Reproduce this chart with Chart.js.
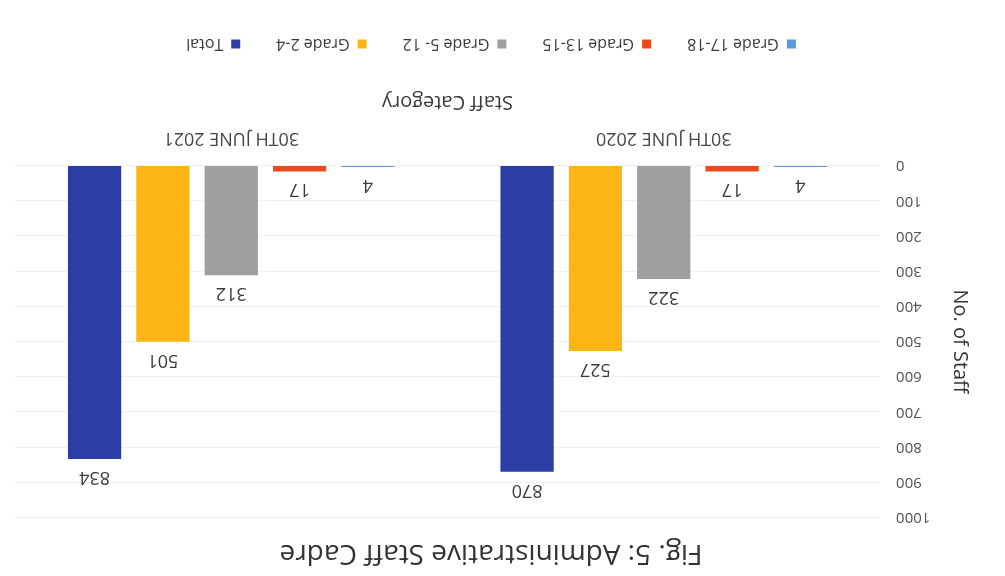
<!DOCTYPE html>
<html>
<head>
<meta charset="utf-8">
<title>Fig. 5: Administrative Staff Cadre</title>
<script src="https://cdn.jsdelivr.net/npm/chart.js@4.4.1/dist/chart.umd.min.js"></script>
<style>
  html, body { margin: 0; padding: 0; background: #ffffff; }
  #wrap { width: 1005px; height: 576px; transform: rotate(180deg); transform-origin: 50% 50%; }
  canvas { display: block; }
</style>
</head>
<body>
<div id="wrap"><canvas id="chart" width="1005" height="576"></canvas></div>
<script>
// Staff counts by grade at each reporting date
const categories = ['30TH JUNE 2020', '30TH JUNE 2021'];
const seriesNames = ['Grade 17-18', 'Grade 13-15', 'Grade 5- 12', 'Grade 2-4', 'Total'];
const grade17to18 = [4, 4];
const grade13to15 = [17, 17];
const grade5to12 = [322, 312];
const grade2to4 = [527, 501];
const totalStaff = [870, 834];
const yTicks = [0, 100, 200, 300, 400, 500, 600, 700, 800, 900, 1000];

const seriesColors = ['#5b9be0', '#ec4a1c', '#a19e9f', '#fbb616', '#2c3ea6'];
const seriesValues = [grade17to18, grade13to15, grade5to12, grade2to4, totalStaff];

const FONT = '"Open Sans", "Noto Sans", sans-serif';

// Writes each bar's value above it
const valueLabels = {
  id: 'valueLabels',
  afterDatasetsDraw(chart) {
    const ctx = chart.ctx;
    ctx.save();
    ctx.font = '18px ' + FONT;
    ctx.fillStyle = '#3d3a3a';
    ctx.textAlign = 'center';
    ctx.textBaseline = 'bottom';
    chart.data.datasets.forEach((ds, i) => {
      const meta = chart.getDatasetMeta(i);
      meta.data.forEach((bar, j) => {
        ctx.fillText(String(ds.data[j]), bar.x, bar.y - 9);
      });
    });
    ctx.restore();
  }
};

new Chart(document.getElementById('chart'), {
  type: 'bar',
  data: {
    labels: categories,
    datasets: seriesNames.map((name, i) => ({
      label: name,
      data: seriesValues[i],
      backgroundColor: seriesColors[i],
      borderWidth: 0,
      categoryPercentage: 0.79,
      barPercentage: 0.78
    }))
  },
  options: {
    responsive: false,
    animation: false,
    layout: { padding: { top: 6, right: 15, bottom: 26, left: 38 } },
    plugins: {
      title: {
        display: true,
        text: 'Fig. 5: Administrative Staff Cadre',
        color: '#333333',
        font: { family: FONT, size: 28, weight: 'normal' },
        padding: { top: 0, bottom: 19 }
      },
      legend: {
        position: 'bottom',
        labels: {
          color: '#3d3a3a',
          font: { family: FONT, size: 16 },
          boxWidth: 9,
          boxHeight: 9,
          padding: 36
        }
      },
      tooltip: { enabled: false }
    },
    scales: {
      x: {
        grid: { display: false },
        border: { display: false },
        ticks: { color: '#4a4444', font: { family: FONT, size: 18 }, padding: 9 },
        title: {
          display: true,
          text: 'Staff Category',
          color: '#3d3a3a',
          font: { family: FONT, size: 20 },
          padding: { top: 4, bottom: 2 }
        }
      },
      y: {
        min: 0,
        max: 1000,
        afterBuildTicks(scale) { scale.ticks = yTicks.map(v => ({ value: v })); },
        afterFit(scale) { scale.width = 87; },
        grid: { color: 'rgba(215,170,170,0.18)', drawTicks: false },
        border: { display: false },
        ticks: {
          color: '#5a5050',
          font: { family: FONT, size: 15 },
          padding: 16,
          callback: (v) => String(v)
        },
        title: {
          display: true,
          text: 'No. of Staff',
          color: '#333333',
          font: { family: FONT, size: 20 },
          padding: { top: -5, bottom: 0 }
        }
      }
    }
  },
  plugins: [valueLabels]
});
</script>
</body>
</html>
